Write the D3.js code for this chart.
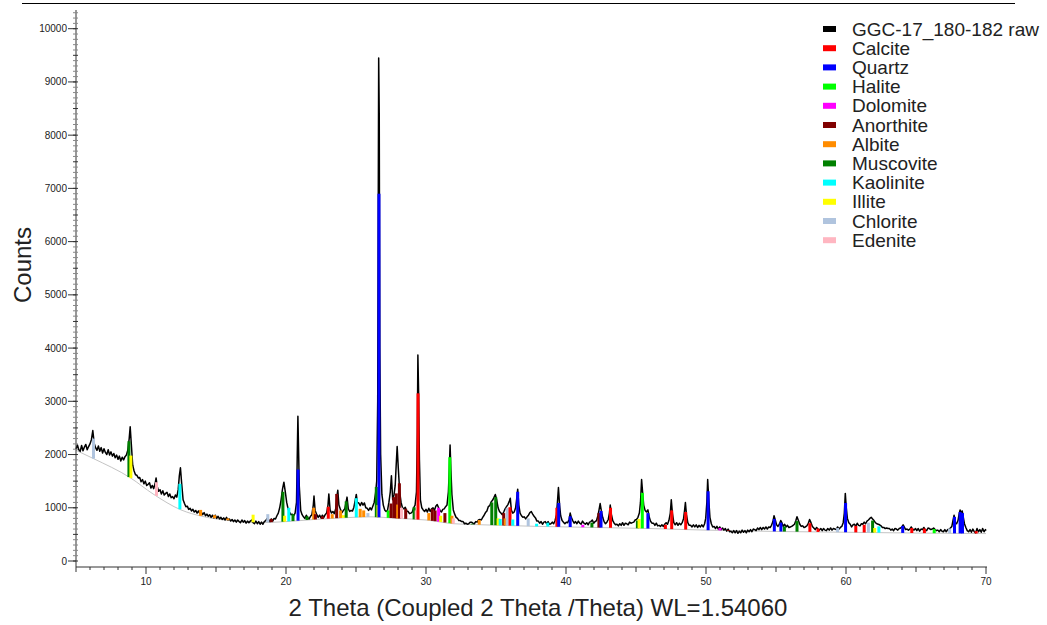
<!DOCTYPE html>
<html>
<head>
<meta charset="utf-8">
<script src="https://cdn.jsdelivr.net/npm/d3@7"></script>
<style>
  body { margin: 0; background: #fff; }
  svg { font-family: "Liberation Sans", Arial, sans-serif; }
</style>
</head>
<body>
<div id="chart"></div>
<script>
// raw pattern, [2theta, counts]
const pattern = [
  [5.0,2100],[5.1,2180],[5.2,2090],[5.3,2060],[5.4,2170],[5.5,2070],[5.6,2140],[5.7,2190],[5.8,2090],[5.9,2150],
  [6.0,2200],[6.1,2280],[6.2,2450],[6.3,2210],[6.4,2130],[6.5,2080],[6.6,2160],[6.7,2060],[6.8,2130],[6.9,2030],
  [7.0,2110],[7.1,2040],[7.2,2000],[7.3,2090],[7.4,1990],[7.5,2050],[7.6,1970],[7.7,2020],[7.8,1940],[7.9,1990],
  [8.0,1910],[8.1,1970],[8.2,1880],[8.3,1950],[8.4,1900],[8.5,1960],[8.6,1990],[8.7,2080],[8.8,2300],[8.87,2520],
  [8.95,2200],[9.05,1800],[9.15,1690],[9.25,1620],[9.35,1610],[9.45,1560],[9.55,1570],[9.65,1490],[9.75,1530],[9.85,1450],
  [9.95,1500],[10.05,1420],[10.15,1440],[10.25,1470],[10.35,1370],[10.45,1420],[10.55,1360],[10.65,1450],[10.72,1560],[10.8,1400],
  [10.9,1310],[11.0,1340],[11.1,1260],[11.2,1320],[11.3,1240],[11.4,1270],[11.5,1290],[11.6,1210],[11.7,1260],[11.8,1190],
  [11.9,1210],[12.0,1170],[12.1,1240],[12.2,1200],[12.3,1340],[12.38,1600],[12.46,1750],[12.55,1450],[12.65,1150],[12.75,1080],
  [12.85,1020],[12.95,1030],[13.05,970],[13.15,990],[13.25,940],[13.35,970],[13.45,920],[13.55,950],[13.65,900],[13.75,940],
  [13.85,890],[13.95,920],[14.05,870],[14.15,910],[14.25,850],[14.35,880],[14.45,840],[14.55,870],[14.65,820],[14.75,860],
  [14.85,810],[14.95,860],[15.05,800],[15.15,840],[15.25,790],[15.35,820],[15.45,780],[15.55,810],[15.65,770],[15.75,820],
  [15.85,770],[15.95,790],[16.05,750],[16.15,780],[16.25,740],[16.35,770],[16.45,730],[16.55,770],[16.65,740],[16.75,720],
  [16.85,770],[16.95,730],[17.05,760],[17.15,710],[17.25,750],[17.35,720],[17.45,750],[17.55,770],[17.65,720],[17.75,700],
  [17.85,750],[17.95,700],[18.05,740],[18.15,690],[18.25,730],[18.35,690],[18.45,740],[18.55,760],[18.65,800],[18.75,780],
  [18.85,740],[18.95,790],[19.05,750],[19.15,800],[19.25,790],[19.35,850],[19.45,900],[19.55,1000],[19.65,1150],[19.75,1350],
  [19.85,1480],[19.95,1300],[20.05,1100],[20.15,980],[20.25,920],[20.35,870],[20.45,880],[20.55,850],[20.65,900],[20.75,1100],
  [20.85,2720],[20.95,1400],[21.05,950],[21.15,870],[21.25,830],[21.35,800],[21.45,860],[21.55,810],[21.65,790],[21.75,840],
  [21.85,870],[21.95,1050],[22.0,1220],[22.08,950],[22.2,870],[22.3,820],[22.4,860],[22.5,810],[22.6,860],[22.7,820],
  [22.8,870],[22.9,900],[23.0,1050],[23.06,1260],[23.15,960],[23.25,900],[23.35,930],[23.45,890],[23.55,980],[23.63,1200],
  [23.7,1330],[23.78,1050],[23.9,960],[24.0,910],[24.1,950],[24.2,980],[24.3,1120],[24.36,1200],[24.45,980],[24.55,930],
  [24.65,950],[24.75,940],[24.85,1010],[24.95,1150],[25.02,1250],[25.1,1100],[25.2,1090],[25.3,1040],[25.4,1100],[25.5,1050],
  [25.6,1090],[25.7,1000],[25.8,990],[25.9,950],[26.0,1000],[26.1,960],[26.2,1030],[26.3,1100],[26.4,1280],[26.48,1500],
  [26.55,3000],[26.62,9450],[26.66,8400],[26.7,4000],[26.76,2000],[26.85,1250],[26.95,1050],[27.05,960],[27.15,930],[27.25,950],
  [27.35,1100],[27.45,1300],[27.53,1600],[27.62,1150],[27.72,1250],[27.8,1420],[27.87,1800],[27.94,2150],[28.02,1750],[28.12,1300],
  [28.22,1100],[28.32,1000],[28.42,980],[28.52,1010],[28.62,940],[28.72,930],[28.82,890],[28.92,900],[29.02,920],[29.12,1000],
  [29.22,1050],[29.32,1300],[29.38,2400],[29.42,3870],[29.47,3200],[29.53,1900],[29.6,1150],[29.7,1000],[29.8,960],[29.9,930],
  [30.0,970],[30.1,920],[30.2,990],[30.3,930],[30.4,980],[30.5,1000],[30.6,950],[30.7,1030],[30.8,1060],[30.9,1000],
  [31.0,950],[31.1,920],[31.2,970],[31.3,980],[31.4,1020],[31.5,1050],[31.6,1300],[31.66,1700],[31.72,2180],[31.78,1700],
  [31.85,1250],[31.95,960],[32.05,880],[32.15,820],[32.25,800],[32.35,760],[32.45,760],[32.55,740],[32.65,740],[32.75,700],
  [32.85,710],[32.95,690],[33.05,700],[33.15,730],[33.25,730],[33.35,710],[33.45,700],[33.55,740],[33.65,730],[33.75,770],
  [33.85,780],[33.95,770],[34.05,820],[34.15,860],[34.25,910],[34.35,940],[34.45,1020],[34.55,1040],[34.65,1110],[34.75,1140],
  [34.85,1190],[34.95,1250],[35.05,1150],[35.15,1000],[35.25,930],[35.35,900],[35.45,870],[35.55,920],[35.65,980],[35.75,1020],
  [35.85,1060],[35.95,1120],[36.02,1180],[36.1,950],[36.2,900],[36.3,920],[36.4,1000],[36.47,1150],[36.55,1350],[36.63,1050],
  [36.72,900],[36.82,850],[36.92,820],[37.02,830],[37.12,790],[37.22,830],[37.32,860],[37.42,910],[37.52,930],[37.62,880],
  [37.72,840],[37.82,810],[37.92,750],[38.02,750],[38.12,710],[38.22,740],[38.32,690],[38.42,730],[38.52,740],[38.62,700],
  [38.72,740],[38.82,690],[38.92,700],[39.02,730],[39.12,700],[39.22,760],[39.32,870],[39.4,1150],[39.46,1380],[39.54,1050],
  [39.62,850],[39.72,760],[39.82,730],[39.92,700],[40.02,730],[40.12,720],[40.22,780],[40.3,900],[40.38,820],[40.48,760],
  [40.58,710],[40.68,740],[40.78,700],[40.88,750],[40.98,710],[41.08,690],[41.18,750],[41.28,710],[41.38,690],[41.48,720],
  [41.58,680],[41.68,730],[41.78,740],[41.88,770],[41.98,710],[42.08,740],[42.18,760],[42.28,850],[42.36,960],[42.44,1080],
  [42.52,950],[42.62,820],[42.72,740],[42.82,700],[42.92,730],[43.02,780],[43.1,900],[43.16,1050],[43.24,880],[43.34,760],
  [43.44,710],[43.54,680],[43.64,690],[43.74,660],[43.84,700],[43.94,670],[44.04,720],[44.14,670],[44.24,710],[44.34,700],
  [44.44,680],[44.54,730],[44.64,710],[44.74,720],[44.84,730],[44.94,770],[45.04,780],[45.14,820],[45.24,900],[45.32,1100],
  [45.4,1530],[45.47,1300],[45.55,1050],[45.65,950],[45.75,920],[45.85,960],[45.95,820],[46.05,740],[46.15,710],[46.25,710],
  [46.35,670],[46.45,710],[46.55,660],[46.65,670],[46.75,650],[46.85,680],[46.95,650],[47.05,690],[47.15,720],[47.25,690],
  [47.35,760],[47.45,900],[47.52,1150],[47.6,900],[47.7,720],[47.8,680],[47.9,720],[48.0,670],[48.1,710],[48.2,680],
  [48.3,720],[48.4,800],[48.47,950],[48.53,1100],[48.6,880],[48.7,720],[48.8,670],[48.9,670],[49.0,640],[49.1,680],
  [49.2,640],[49.3,680],[49.4,630],[49.5,670],[49.6,640],[49.7,680],[49.8,640],[49.9,700],[49.98,800],[50.06,1100],
  [50.12,1530],[50.2,1150],[50.28,820],[50.38,700],[50.48,640],[50.58,650],[50.68,610],[50.78,650],[50.88,600],[50.98,640],
  [51.08,590],[51.18,620],[51.28,580],[51.38,610],[51.48,560],[51.58,600],[51.68,550],[51.78,560],[51.88,530],[51.98,570],
  [52.08,530],[52.18,570],[52.28,520],[52.38,560],[52.48,530],[52.58,580],[52.68,540],[52.78,570],[52.88,530],[52.98,580],
  [53.08,550],[53.18,590],[53.28,550],[53.38,600],[53.48,590],[53.58,570],[53.68,620],[53.78,590],[53.88,630],[53.98,590],
  [54.08,630],[54.18,600],[54.28,640],[54.38,600],[54.48,640],[54.58,630],[54.68,670],[54.78,740],[54.86,850],[54.94,780],
  [55.04,680],[55.14,650],[55.24,690],[55.34,760],[55.42,720],[55.52,650],[55.62,690],[55.72,640],[55.82,670],[55.92,630],
  [56.02,640],[56.12,650],[56.22,670],[56.32,690],[56.42,760],[56.5,830],[56.6,760],[56.7,690],[56.8,650],[56.9,660],
  [57.0,630],[57.1,640],[57.2,660],[57.3,700],[57.4,780],[57.5,720],[57.6,650],[57.7,620],[57.8,590],[57.9,630],
  [58.0,600],[58.1,580],[58.2,610],[58.3,570],[58.4,610],[58.5,580],[58.6,570],[58.7,610],[58.8,580],[58.9,620],
  [59.0,580],[59.1,610],[59.2,600],[59.3,590],[59.4,640],[59.5,600],[59.6,630],[59.7,650],[59.8,720],[59.88,900],
  [59.95,1270],[60.02,1000],[60.1,800],[60.2,720],[60.3,690],[60.4,640],[60.5,680],[60.6,690],[60.7,650],[60.8,710],
  [60.9,670],[61.0,660],[61.1,700],[61.2,690],[61.3,730],[61.4,700],[61.5,750],[61.6,770],[61.7,800],[61.8,820],
  [61.9,790],[62.0,760],[62.1,720],[62.2,700],[62.3,690],[62.4,680],[62.5,660],[62.6,630],[62.7,630],[62.8,610],
  [62.9,620],[63.0,610],[63.1,610],[63.2,580],[63.3,600],[63.4,570],[63.5,610],[63.6,600],[63.7,580],[63.8,610],
  [63.9,620],[64.0,640],[64.08,680],[64.16,640],[64.26,590],[64.36,600],[64.46,580],[64.56,600],[64.66,640],[64.76,600],
  [64.86,580],[64.96,610],[65.06,570],[65.16,610],[65.26,560],[65.36,600],[65.46,590],[65.56,630],[65.66,580],[65.76,570],
  [65.86,620],[65.96,610],[66.06,590],[66.16,600],[66.26,620],[66.36,590],[66.46,570],[66.56,580],[66.66,550],[66.76,590],
  [66.86,560],[66.96,550],[67.06,590],[67.16,550],[67.26,590],[67.36,590],[67.46,620],[67.56,650],[67.64,760],[67.72,860],
  [67.8,720],[67.9,700],[68.0,760],[68.08,880],[68.15,960],[68.22,900],[68.3,940],[68.38,820],[68.46,700],[68.56,630],
  [68.66,570],[68.76,550],[68.86,590],[68.96,540],[69.06,600],[69.16,550],[69.26,530],[69.36,610],[69.46,550],[69.56,590],
  [69.66,540],[69.76,610],[69.86,550],[69.96,590],[70.0,570]
];

// fitted background
const background = [
  [5,2080],[6.2,1930],[8.9,1560],[10.5,1260],[12.5,960],[14,840],[16,760],[18,720],[20,740],[22,780],
  [24,810],[26,830],[28,800],[30,770],[32,700],[34,680],[38,650],[42,630],[46,610],[50,580],
  [55,555],[60,540],[65,525],[70,515]
];

const phaseNames = ["Calcite","Quartz","Halite","Dolomite","Anorthite","Albite","Muscovite","Kaolinite","Illite","Chlorite","Edenite"];
const phaseColors = ["#ff0000","#0000ff","#00ff00","#ff00ff","#800000","#ff8c00","#008000","#00ffff","#ffff00","#b0c4de","#ffb6c1"];
const rawName = "GGC-17_180-182 raw";

// phase sticks: [2theta, phase, top counts]
const sticks = [
  [6.25,"Chlorite",2300],[8.78,"Muscovite",2250],[8.92,"Illite",1980],[10.75,"Edenite",1480],[12.42,"Kaolinite",1450],
  [13.9,"Albite",960],[14.9,"Albite",860],[15.85,"Albite",800],[17.65,"Illite",870],[18.7,"Chlorite",880],
  [18.95,"Anorthite",790],[19.78,"Muscovite",1300],[19.9,"Illite",850],[20.2,"Kaolinite",1000],[20.5,"Muscovite",880],
  [20.86,"Quartz",1720],[21.5,"Muscovite",840],[21.98,"Albite",1000],[22.1,"Anorthite",880],[22.6,"Anorthite",840],
  [23.02,"Calcite",1020],[23.3,"Albite",880],[23.62,"Anorthite",1260],[23.9,"Albite",950],[24.1,"Illite",860],
  [24.3,"Muscovite",1120],[25.02,"Kaolinite",1180],[25.3,"Albite",980],[25.55,"Albite",950],[25.85,"Chlorite",900],
  [26.45,"Muscovite",1390],[26.57,"Illite",1050],[26.64,"Quartz",6900],[27.3,"Halite",950],[27.5,"Anorthite",1080],
  [27.7,"Anorthite",1200],[27.88,"Anorthite",1270],[27.98,"Albite",1060],[28.1,"Anorthite",1460],[28.25,"Edenite",1000],
  [28.55,"Anorthite",980],[29.15,"Muscovite",1010],[29.3,"Edenite",950],[29.43,"Calcite",3150],[30.2,"Albite",900],
  [30.45,"Anorthite",980],[30.65,"Anorthite",950],[30.9,"Dolomite",1000],[31.05,"Illite",850],[31.35,"Anorthite",900],
  [31.7,"Halite",1950],[31.85,"Albite",850],[31.95,"Edenite",800],[33.3,"Muscovite",700],[33.8,"Albite",770],
  [34.7,"Muscovite",1100],[34.98,"Muscovite",1200],[35.15,"Illite",800],[35.3,"Kaolinite",790],[35.55,"Anorthite",900],
  [35.65,"Albite",800],[35.8,"Chlorite",1000],[36.0,"Calcite",1010],[36.2,"Kaolinite",780],[36.55,"Quartz",1300],
  [37.3,"Chlorite",800],[37.9,"Kaolinite",700],[38.7,"Kaolinite",720],[39.35,"Calcite",1000],[39.48,"Quartz",1090],
  [40.3,"Quartz",840],[41.2,"Dolomite",680],[41.85,"Muscovite",720],[42.35,"Anorthite",900],[42.5,"Quartz",940],
  [43.18,"Calcite",1000],[45.1,"Muscovite",760],[45.22,"Illite",790],[45.45,"Halite",1280],[45.85,"Quartz",900],
  [47.1,"Calcite",680],[47.55,"Calcite",950],[48.55,"Calcite",920],[50.15,"Quartz",1310],[51.0,"Dolomite",620],
  [51.6,"Calcite",580],[54.88,"Quartz",790],[55.35,"Quartz",720],[55.6,"Muscovite",650],[56.5,"Muscovite",750],
  [57.42,"Calcite",710],[58.0,"Calcite",610],[59.4,"Chlorite",620],[59.97,"Quartz",1090],[60.7,"Calcite",660],
  [61.3,"Calcite",680],[61.6,"Chlorite",720],[61.9,"Muscovite",760],[62.05,"Illite",620],[62.35,"Kaolinite",650],
  [64.05,"Quartz",660],[64.7,"Calcite",620],[65.6,"Calcite",610],[66.3,"Halite",600],[67.4,"Chlorite",610],
  [67.75,"Quartz",830],[68.15,"Quartz",920],[68.32,"Quartz",900],[69.3,"Calcite",560]
];

const xTicks = [10,20,30,40,50,60,70];
const yTicks = [0,1000,2000,3000,4000,5000,6000,7000,8000,9000,10000];

const width = 1047, height = 625;
const svg = d3.select("#chart").append("svg")
  .attr("width", width)
  .attr("height", height);

const x = d3.scaleLinear().domain([5, 70]).range([76, 986]);
const y = d3.scaleLinear().domain([0, 10000]).range([561, 28.7]);
const color = d3.scaleOrdinal().domain(phaseNames).range(phaseColors);

const axisY = 567;

// top rule
svg.append("line")
  .attr("x1", 22).attr("x2", 1015)
  .attr("y1", 3.5).attr("y2", 3.5)
  .attr("stroke", "#000").attr("stroke-width", 1);

// background
svg.append("path")
  .datum(background)
  .attr("fill", "none")
  .attr("stroke", "#c4c4c4")
  .attr("stroke-width", 1)
  .attr("d", d3.line().x(d => x(d[0])).y(d => y(d[1])).curve(d3.curveMonotoneX));

// raw pattern
svg.append("path")
  .datum(pattern)
  .attr("fill", "none")
  .attr("stroke", "#000")
  .attr("stroke-width", 1.5)
  .attr("stroke-linejoin", "round")
  .attr("d", d3.line().x(d => x(d[0])).y(d => y(d[1])));

// base of a stick = background at that angle
const bis = d3.bisector(d => d[0]).left;
function bgAt(t) {
  const i = Math.max(1, Math.min(background.length - 1, bis(background, t)));
  const a = background[i - 1], b = background[i];
  return a[1] + (b[1] - a[1]) * (t - a[0]) / (b[0] - a[0]);
}

svg.append("g").selectAll("rect")
  .data(sticks)
  .join("rect")
  .attr("x", d => x(d[0]) - 1.5)
  .attr("width", 3)
  .attr("y", d => y(d[2]))
  .attr("height", d => Math.max(0, y(bgAt(d[0])) - y(d[2])))
  .attr("fill", d => color(d[1]));

// y axis
const gy = svg.append("g");
gy.append("line")
  .attr("x1", 76).attr("x2", 76)
  .attr("y1", 10).attr("y2", axisY)
  .attr("stroke", "#333").attr("stroke-width", 1);
gy.selectAll(".minor")
  .data(d3.range(0, 10400, 100))
  .join("line")
  .attr("x1", 73).attr("x2", 78)
  .attr("y1", d => y(d)).attr("y2", d => y(d))
  .attr("stroke", d => d % 500 === 0 ? "#333" : "#888")
  .attr("stroke-width", 1);
gy.selectAll(".major")
  .data(yTicks)
  .join("line")
  .attr("x1", 68).attr("x2", 76)
  .attr("y1", d => y(d)).attr("y2", d => y(d))
  .attr("stroke", "#333");
gy.selectAll("text")
  .data(yTicks)
  .join("text")
  .attr("x", 67)
  .attr("y", d => y(d))
  .attr("dy", "0.35em")
  .attr("text-anchor", "end")
  .attr("font-size", 10)
  .attr("fill", "#222")
  .text(d => d);

// x axis
const gx = svg.append("g");
gx.append("line")
  .attr("x1", 76).attr("x2", 987)
  .attr("y1", axisY).attr("y2", axisY)
  .attr("stroke", "#333");
gx.selectAll(".minor")
  .data(d3.range(5, 71, 1))
  .join("line")
  .attr("x1", d => x(d)).attr("x2", d => x(d))
  .attr("y1", axisY)
  .attr("y2", d => axisY + (d % 10 === 0 ? 7 : d % 5 === 0 ? 5 : 3))
  .attr("stroke", "#333");
gx.selectAll("text")
  .data(xTicks)
  .join("text")
  .attr("x", d => x(d))
  .attr("y", 585)
  .attr("text-anchor", "middle")
  .attr("font-size", 10)
  .attr("fill", "#222")
  .text(d => d);

// axis titles
svg.append("text")
  .attr("x", 538).attr("y", 616)
  .attr("text-anchor", "middle")
  .attr("font-size", 24)
  .attr("fill", "#222")
  .text("2 Theta (Coupled 2 Theta /Theta) WL=1.54060");

svg.append("text")
  .attr("transform", "translate(31,265) rotate(-90)")
  .attr("text-anchor", "middle")
  .attr("font-size", 24)
  .attr("fill", "#222")
  .text("Counts");

// legend
const legendItems = [rawName].concat(phaseNames);
const legendColors = ["#000"].concat(phaseColors);
const lg = svg.append("g");
lg.selectAll("rect")
  .data(legendItems)
  .join("rect")
  .attr("x", 823)
  .attr("y", (d, i) => 26 + i * 19.2)
  .attr("width", 13)
  .attr("height", 6)
  .attr("fill", (d, i) => legendColors[i]);
lg.selectAll("text")
  .data(legendItems)
  .join("text")
  .attr("x", 852)
  .attr("y", (d, i) => 29 + i * 19.2)
  .attr("dy", "0.35em")
  .attr("font-size", 19)
  .attr("fill", "#222")
  .text(d => d);
</script>
</body>
</html>
